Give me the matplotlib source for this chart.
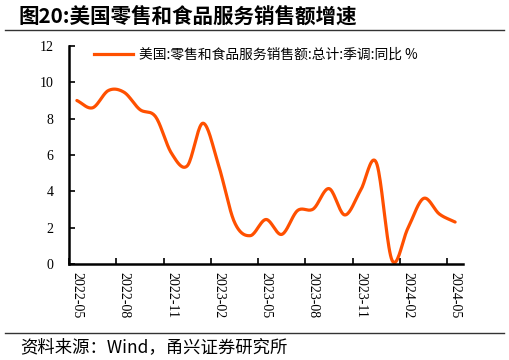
import numpy as np
import matplotlib.pyplot as plt
from matplotlib.lines import Line2D

# 美国零售和食品服务销售额同比 (%), 2022-05 .. 2024-05
months = ['2022-05', '2022-06', '2022-07', '2022-08', '2022-09', '2022-10', '2022-11',
          '2022-12', '2023-01', '2023-02', '2023-03', '2023-04', '2023-05', '2023-06',
          '2023-07', '2023-08', '2023-09', '2023-10', '2023-11', '2023-12', '2024-01',
          '2024-02', '2024-03', '2024-04', '2024-05']
yoy = [9.0, 8.6, 9.55, 9.45, 8.5, 8.1, 6.1, 5.4, 7.75, 5.4, 2.3, 1.56, 2.45, 1.63,
       2.94, 3.03, 4.15, 2.7, 4.05, 5.58, 0.2, 1.96, 3.61, 2.75, 2.31]

series_name = '美国:零售和食品服务销售额:总计:季调:同比 %'
title = '图20:美国零售和食品服务销售额增速'
source = '资料来源：Wind，甬兴证券研究所'

cjk = ['Noto Sans CJK SC', 'DejaVu Sans']
serif = ['Liberation Serif', 'DejaVu Serif']
color = '#FF5000'


def smooth(y, n=20):
    # catmull-rom style smoothing for display (like the excel "smoothed line")
    y = np.asarray(y, float)
    x = np.arange(len(y), dtype=float)
    p = np.concatenate([[2 * y[0] - y[1]], y, [2 * y[-1] - y[-2]]])
    xs, ys = [], []
    for i in range(len(y) - 1):
        p0, p1, p2, p3 = p[i], p[i + 1], p[i + 2], p[i + 3]
        t = np.linspace(0, 1, n, endpoint=False)
        yy = 0.5 * ((2 * p1) + (-p0 + p2) * t + (2 * p0 - 5 * p1 + 4 * p2 - p3) * t ** 2
                    + (-p0 + 3 * p1 - 3 * p2 + p3) * t ** 3)
        xs.append(x[i] + t)
        ys.append(yy)
    xs.append([x[-1]])
    ys.append([y[-1]])
    return np.concatenate(xs), np.concatenate(ys)


fig = plt.figure(figsize=(5.09, 3.6), dpi=100)
ax = fig.add_axes([69 / 509, (360 - 264) / 360, (463 - 69) / 509, (264 - 46) / 360])

sx, sy = smooth(yoy)
ax.plot(sx, sy, color=color, linewidth=2.3, solid_capstyle='round')

ax.set_xlim(-0.5, len(months) - 0.5)
ax.set_ylim(0, 12)
ax.set_yticks(np.arange(0, 13, 2))
ax.set_yticklabels([str(v) for v in range(0, 13, 2)], family=serif, fontsize=10)

idx = list(range(0, len(months), 3))
ax.set_xticks(idx)
ax.set_xticklabels([months[i] for i in idx], rotation=270, family=serif, fontsize=10)
ax.set_xticks(np.arange(-0.5, len(months) - 0.5, 3), minor=True)
ax.tick_params(axis='x', which='major', length=0, pad=6)
ax.tick_params(axis='x', which='minor', direction='in', length=4, width=1.2)
ax.tick_params(axis='y', direction='in', length=4, width=1.2, pad=11)

for s in ['top', 'right']:
    ax.spines[s].set_visible(False)
for s in ['left', 'bottom']:
    ax.spines[s].set_linewidth(1.8)

handle = Line2D([], [], color=color, linewidth=2.3)
ax.legend([handle], [series_name], loc='upper left', frameon=False,
          prop={'family': cjk, 'size': 9.9}, handlelength=2.85,
          bbox_to_anchor=(0.063, 0.99), borderaxespad=0, borderpad=0,
          handletextpad=0.4)

fig.text(18 / 509, 1 - 16 / 360, title, family=cjk, fontsize=14.8, fontweight='bold',
         va='center', ha='left')
fig.add_artist(Line2D([5 / 509, 504 / 509], [1 - 29.5 / 360] * 2, color='#333333', linewidth=1))
fig.add_artist(Line2D([5 / 509, 504 / 509], [1 - 333 / 360] * 2, color='#333333', linewidth=1))
fig.text(20 / 509, 1 - 347 / 360, source, family=cjk, fontsize=12.5, va='center', ha='left',
         style='italic')

fig.savefig('out.png', dpi=100)
